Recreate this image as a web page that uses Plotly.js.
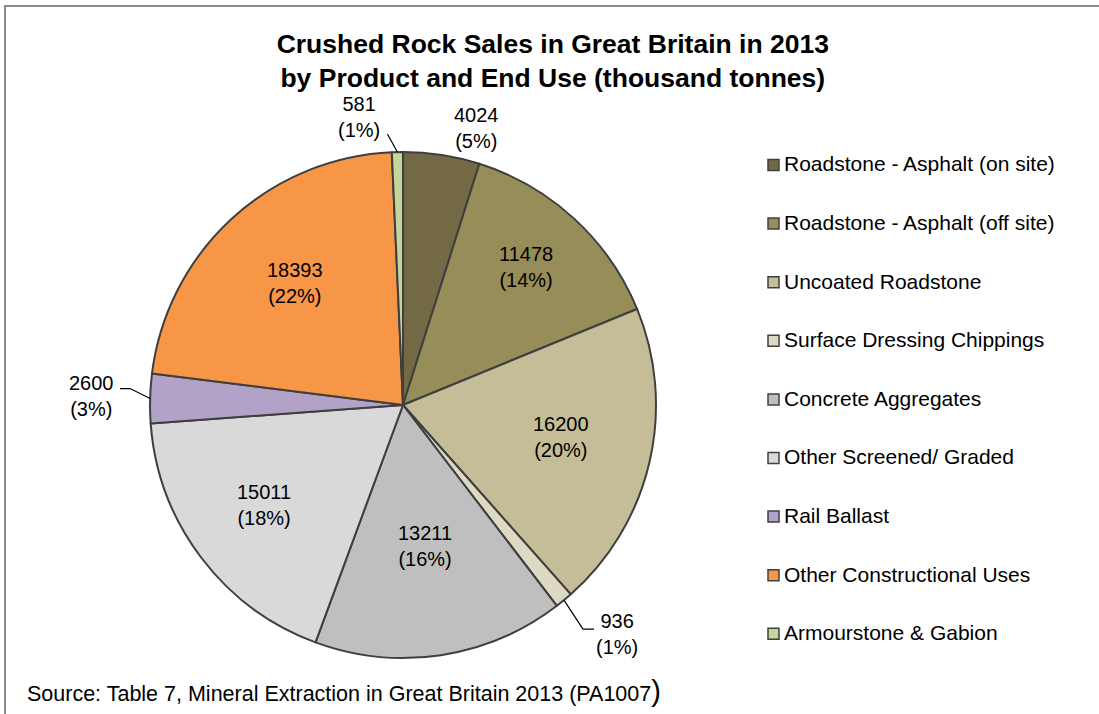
<!DOCTYPE html>
<html>
<head>
<meta charset="utf-8">
<script src="https://cdn.plot.ly/plotly-3.0.1.min.js"></script>
<style>
  html, body { margin: 0; padding: 0; background: #ffffff; }
  #chart { width: 1099px; height: 714px; }
</style>
</head>
<body>
<div id="chart"></div>
<script>
// ---- data ----
const categories = [
  "Roadstone - Asphalt (on site)",
  "Roadstone - Asphalt (off site)",
  "Uncoated Roadstone",
  "Surface Dressing Chippings",
  "Concrete Aggregates",
  "Other Screened/ Graded",
  "Rail Ballast",
  "Other Constructional Uses",
  "Armourstone & Gabion"
];
const sales = [4024, 11478, 16200, 936, 13211, 15011, 2600, 18393, 581];
const colors = ["#736a45", "#968d58", "#c4bd97", "#ddd9c3", "#bfbfbf", "#d9d9d9", "#b3a2c7", "#f79646", "#c3d69b"];
const titleText = "Crushed Rock Sales in Great Britain in 2013<br>by Product and End Use (thousand tonnes)";
const sourceText = "Source: Table 7, Mineral Extraction in Great Britain 2013 (PA1007";

// ---- layout / style constants ----
const W = 1099, H = 714;
const CX = 403, CY = 405, R = 253;              // pie centre and radius (px)
const FONT = "Arial, 'Liberation Sans', sans-serif";
const LABEL_SIZE = 20;
// label placement per slice: inside -> radial factor; outside -> pixel shift + leader
const labelStyle = [
  {kind: "out", dx: 35, dy: -27, leader: []},
  {kind: "in", r: 0.715},
  {kind: "in", r: 0.64},
  {kind: "out", dx: 53, dy: 34, leader: [[19, 29], [30, 29]]},
  {kind: "in", r: 0.585},
  {kind: "in", r: 0.69},
  {kind: "out", dx: -59, dy: -3, leader: [[-20, -10], [-30, -10]]},
  {kind: "in", r: 0.63},
  {kind: "out", dx: -38, dy: -35, leader: [[-10, -18]]}
];

const px = x => x / W;
const py = y => 1 - y / H;

const total = sales.reduce((a, b) => a + b, 0);
const annotations = [];
const shapes = [];

// slice labels from data
let cum = 0;
sales.forEach((v, i) => {
  const start = cum / total * 360;
  cum += v;
  const end = cum / total * 360;
  const mid = (start + end) / 2 * Math.PI / 180;
  const pct = Math.round(v / total * 100);
  const txt = v + "<br>(" + pct + "%)";
  const st = labelStyle[i];
  if (st.kind === "in") {
    const x = CX + R * st.r * Math.sin(mid);
    const y = CY - R * st.r * Math.cos(mid);
    annotations.push({x: px(x), y: py(y - 5), xref: "paper", yref: "paper", text: txt,
      showarrow: false, xanchor: "center", yanchor: "middle",
      font: {family: FONT, size: LABEL_SIZE, color: "#000"}});
  } else {
    const ex = CX + R * Math.sin(mid);
    const ey = CY - R * Math.cos(mid);
    annotations.push({x: px(ex + st.dx), y: py(ey + st.dy), xref: "paper", yref: "paper", text: txt,
      showarrow: false, xanchor: "center", yanchor: "middle",
      font: {family: FONT, size: LABEL_SIZE, color: "#000"}});
    if (st.leader.length) {
      let path = "M" + px(ex) + "," + py(ey);
      st.leader.forEach(p => { path += " L" + px(ex + p[0]) + "," + py(ey + p[1]); });
      shapes.push({type: "path", xref: "paper", yref: "paper", path: path,
        line: {color: "#000", width: 1.2}});
    }
  }
});

// manual legend
const LEG_X = 768, LEG_Y0 = 164, LEG_DY = 58.6, SQ = 11;
categories.forEach((c, i) => {
  const yc = LEG_Y0 + i * LEG_DY;
  shapes.push({type: "rect", xref: "paper", yref: "paper",
    x0: px(LEG_X), x1: px(LEG_X + SQ), y0: py(yc - SQ / 2 + 1), y1: py(yc + SQ / 2 + 1),
    fillcolor: colors[i], line: {color: "#404040", width: 1.5}});
  annotations.push({x: px(LEG_X + SQ + 3), y: py(yc), xref: "paper", yref: "paper",
    text: c, showarrow: false, xanchor: "left", yanchor: "middle",
    font: {family: FONT, size: 21, color: "#000"}});
});

// source note
annotations.push({x: px(25), y: py(691), xref: "paper", yref: "paper",
  text: sourceText + "<span style='font-size:29px'>)</span>", showarrow: false,
  xanchor: "left", yanchor: "middle", font: {family: FONT, size: 21.5, color: "#000"}});

// chart frame
shapes.push({type: "path", xref: "paper", yref: "paper",
  path: "M" + px(5) + "," + py(H + 5) + " L" + px(5) + "," + py(6) + " L" + px(W + 5) + "," + py(6),
  line: {color: "#8c8c8c", width: 2}});

const trace = {
  type: "pie",
  labels: categories,
  values: sales,
  sort: false,
  direction: "clockwise",
  rotation: 0,
  textinfo: "none",
  hoverinfo: "label+value+percent",
  marker: {colors: colors, line: {color: "#3f3f3f", width: 2}},
  domain: {x: [px(CX - R), px(CX + R)], y: [py(CY + R), py(CY - R)]},
  showlegend: false
};

const layout = {
  width: W, height: H,
  margin: {l: 0, r: 0, t: 0, b: 0},
  paper_bgcolor: "#ffffff",
  plot_bgcolor: "#ffffff",
  title: {text: titleText, x: 0.503, xanchor: "center", y: py(53), yanchor: "middle",
    font: {family: FONT, size: 26.5, color: "#000", weight: "bold"}},
  showlegend: false,
  annotations: annotations,
  shapes: shapes
};

Plotly.newPlot("chart", [trace], layout, {displayModeBar: false, staticPlot: true});
</script>
</body>
</html>
